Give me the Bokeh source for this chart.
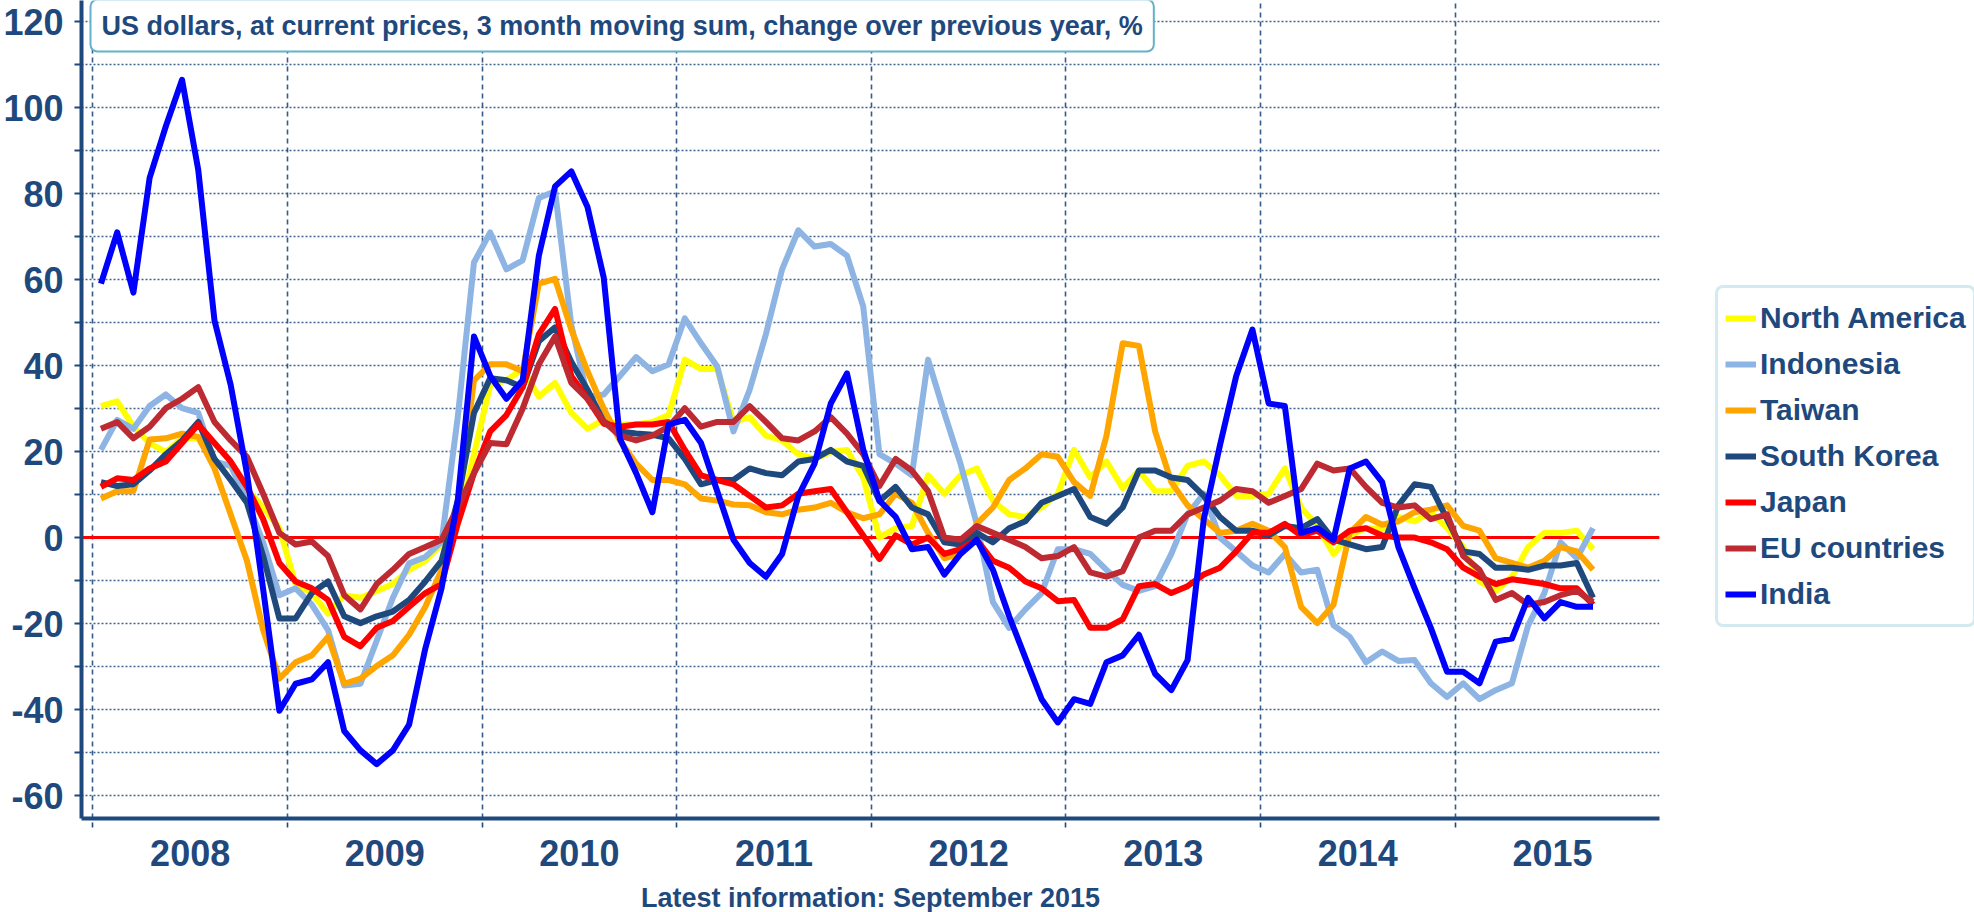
import numpy as np
from bokeh.plotting import figure
from bokeh.models import FixedTicker, Span, Label, Legend, LegendItem
from bokeh.embed import file_html
from bokeh.resources import INLINE

# ---------------- data (monthly, Jan 2008 .. Sep 2015) ----------------
years = ["2008", "2009", "2010", "2011", "2012", "2013", "2014", "2015"]
y_tick_values = list(range(-60, 121, 20))

north_america = [30.6, 31.7, 25.8, 22, 19.9, 23.1, 23.1, 17.2, 16.7, 11.3, 7, 2.2,
                 -10.8, -12.9, -17.7, -13.4, -14, -12.4, -10.8, -7.5, -5.4, -1.6, 3.2, 19.4,
                 35.5, 36.6, 39.2, 32.8, 36, 29, 25.3, 27.4, 26.3, 26.3, 26.9, 28.5,
                 41.4, 39.2, 39.2, 26.9, 28, 23.7, 22.6, 19.4, 18.3, 19.9, 20.4, 14,
                 0, 2.2, 2.7, 14.5, 10.2, 14.5, 16.1, 8.6, 5.4, 4.8, 7, 10.2,
                 20.4, 14, 17.7, 11.5, 15.6, 10.8, 10.8, 16.7, 17.7, 14.5, 9.7, 9.7,
                 10.2, 16.1, 7, 2.7, -3.8, 0.5, 2.2, 2, 4.8, 3.8, 5.9, 2.2,
                 -2.2, -10.2, -12.4, -9.1, -2.2, 1.1, 1.1, 1.6, -2.7]

indonesia = [20.4, 27.4, 25.3, 30.6, 33.3, 30.1, 29, 17.7, 16.7, 8.6, -1.1, -13.4,
             -11.8, -15.6, -21.5, -34.4, -34, -24, -14, -6, -4.5, -1, 28, 64,
             71, 62.4, 64.5, 79, 80.6, 49.5, 32.8, 33.3, 37.6, 42, 38.7, 40.3,
             51, 45.2, 39.8, 24.7, 34.4, 47.3, 62.4, 71.5, 67.7, 68.3, 65.6, 53.8,
             19.4, 17.2, 14.5, 41.4, 29, 17.2, 3.2, -15, -21, -16.7, -12.9, -2.7,
             -2.7, -3.8, -7.5, -11, -12.4, -11.3, -3.8, 5.4, 10.2, 0, -3.2, -6.5,
             -8.1, -3.8, -8.1, -7.5, -20.4, -23.1, -29, -26.5, -28.7, -28.5, -33.9, -37.1,
             -33.9, -37.6, -35.5, -33.9, -20.4, -12.9, -1.1, -4.8, 2.2]

taiwan = [9.1, 10.8, 10.8, 22.8, 23.1, 24.2, 23.4, 16.1, 5.4, -5.4, -21.5, -32.8,
          -29, -27.4, -23.1, -34, -32.8, -29.9, -27.4, -22.6, -16.1, -7.5, 7, 36.6,
          40.3, 40.3, 38.7, 59.1, 60.2, 48.4, 38.7, 30, 22.6, 17.2, 13.4, 13.4,
          12.4, 9.1, 8.6, 7.7, 7.5, 5.9, 5.4, 6.5, 7, 8.1, 5.9, 4.5,
          5.4, 10.2, 8.1, 1.1, -4.8, -3.8, 3.2, 7, 13.4, 16.1, 19.4, 18.8,
          12.9, 9.7, 23.7, 45.2, 44.6, 24.7, 12.9, 7.5, 4.3, 1.1, 1.6, 3.2,
          1.6, -2.2, -16.1, -19.9, -15.6, 1.1, 4.8, 3, 3.8, 5.9, 6.5, 7.5,
          2.7, 1.6, -4.8, -5.9, -7, -5.4, -2.2, -3.2, -7.5]

south_korea = [12.9, 12, 12.4, 15.6, 19.4, 22.6, 26.9, 18.3, 13.4, 8.1, -4.3, -18.8,
               -18.8, -12.9, -10.2, -18.3, -19.9, -18.3, -17.2, -14.5, -10.2, -5.4, 8.6, 29,
               37.1, 36.6, 35, 45.7, 48.9, 40.9, 34.4, 27, 24.7, 24.2, 23.9, 23.1,
               18.3, 12.4, 13.4, 13.4, 16.1, 15, 14.5, 17.7, 18.3, 20.4, 17.7, 16.7,
               8.5, 11.8, 7, 5.4, -1.1, -1.6, 1.1, -1.1, 2.2, 3.8, 8.1, 9.7,
               11.3, 4.8, 3.2, 7, 15.6, 15.6, 14, 13.4, 9.7, 4.8, 1.6, 1.6,
               0.5, 2.7, 2.2, 4.3, -0.5, -1.6, -2.7, -2.2, 7.5, 12.4, 11.8, 4.3,
               -3.2, -3.8, -7, -7, -7.5, -6.5, -6.5, -5.9, -14]

japan = [11.8, 13.8, 13.4, 16.1, 17.7, 22, 26.3, 22, 17.7, 11.8, 4.3, -5.9,
         -10.2, -11.8, -14.5, -23.1, -25.3, -21, -19.4, -16.1, -12.9, -10.8, 3.2, 15,
         24.7, 28.5, 35, 47.3, 53.2, 37.6, 32.3, 26.5, 25.8, 26.3, 26.3, 26.9,
         20.4, 14.5, 13.4, 12.4, 9.7, 7, 7.5, 10.2, 10.8, 11.3, 5.9, 0.5,
         -5, 0.5, -1.6, 0, -3.8, -2.7, -0.5, -5.4, -7, -10.2, -11.8, -14.8,
         -14.5, -21, -21, -19, -11.3, -10.8, -12.9, -11.3, -8.6, -7, -3.2, 1.1,
         1.1, 3.2, 0.5, 1.6, -1.1, 1.6, 2.2, 0.5, 0, 0, -1.1, -2.7,
         -7, -9.1, -10.8, -9.7, -10.2, -10.8, -11.8, -11.8, -15.6]

eu_countries = [25.3, 26.9, 23.1, 25.8, 30.1, 32.3, 35, 26.9, 22.6, 18.8, 10.2, 1.1,
                -1.6, -0.9, -4.3, -13.4, -16.7, -10.8, -7.5, -3.8, -2.2, -0.5, 7, 15,
                22, 21.7, 30, 40.3, 46.8, 36, 32.3, 27, 23.7, 22.6, 23.7, 25.8,
                30.1, 25.8, 26.9, 26.9, 30.6, 26.9, 23.1, 22.6, 24.7, 28, 24.2, 19.4,
                12, 18.3, 15.6, 10.8, 0, -0.5, 2.7, 1.1, -0.5, -2.2, -4.8, -4.3,
                -2.2, -8.1, -9.1, -7.8, 0, 1.6, 1.6, 5.4, 7, 8.6, 11.3, 10.8,
                8.1, 9.7, 11.3, 17.2, 15.6, 16.1, 11.8, 8.1, 7, 7.5, 4.3, 5.4,
                -4.3, -7.5, -14.5, -12.9, -15.6, -15, -13.4, -12.4, -15]

india = [59.1, 71, 57, 83.7, 95.7, 106.5, 85.5, 50.5, 35.5, 15, -12, -40.3,
         -34, -33, -29, -45, -49.5, -52.7, -49.5, -43.5, -25.8, -11.8, 8.6, 46.8,
         37.6, 32.3, 36.6, 65.6, 81.7, 85.2, 76.9, 60.5, 23, 15, 5.9, 26.3,
         27.4, 22, 10.8, -0.5, -5.9, -9.1, -3.8, 9.7, 17.2, 31.2, 38.2, 20.5,
         8.6, 4.8, -2.7, -2.2, -8.6, -3.8, -0.5, -7.5, -18.3, -28, -37.6, -43,
         -37.6, -38.7, -29, -27.4, -22.6, -31.7, -35.5, -28.5, 4.3, 21.5, 37.6, 48.4,
         31.2, 30.6, 1.1, 2.2, -0.5, 16.1, 17.7, 12.9, -2.2, -11.8, -21, -31.2,
         -31.2, -33.9, -24.2, -23.5, -14, -18.8, -15, -16.1, -16.1]

series_names = ["North America", "Indonesia", "Taiwan", "South Korea", "Japan", "EU countries", "India"]
series_values = [north_america, indonesia, taiwan, south_korea, japan, eu_countries, india]
series_colors = ["#FFFF00", "#8DB4E2", "#FFA500", "#1F497D", "#FF0000", "#BE2A31", "#0000FF"]

NAVY = "#1F497D"
FONT = "Liberation Sans"

# month mid-points, measured in months from January 2008
x = np.arange(len(india)) + 0.5
year_bounds = [12 * k for k in range(len(years))]
year_centers = [12 * k + 6 for k in range(len(years))]

p = figure(frame_width=1578, frame_height=818, output_backend="svg", toolbar_location=None,
           x_range=(-0.7, 96.6), y_range=(-65.35, 124.95),
           min_border_left=78, min_border_right=0, min_border_top=0, min_border_bottom=70,
           background_fill_color="white", border_fill_color="white")
p.outline_line_color = None

# grids
p.xgrid.ticker = FixedTicker(ticks=year_bounds)
p.xgrid.grid_line_color = NAVY
p.xgrid.grid_line_width = 1.6
p.xgrid.grid_line_dash = "5 4"
p.xgrid.grid_line_alpha = 0.9

yticker = FixedTicker(ticks=y_tick_values, minor_ticks=[v + 10 for v in y_tick_values[:-1]])
p.yaxis.ticker = yticker
p.ygrid.ticker = yticker
p.ygrid.grid_line_color = NAVY
p.ygrid.grid_line_width = 1.5
p.ygrid.grid_line_dash = "2 2"
p.ygrid.grid_line_alpha = 0.85
p.ygrid.minor_grid_line_color = NAVY
p.ygrid.minor_grid_line_width = 1.5
p.ygrid.minor_grid_line_dash = "2 2"
p.ygrid.minor_grid_line_alpha = 0.85

# y axis
ya = p.yaxis[0]
ya.major_label_overrides = {v: str(v) for v in y_tick_values}
ya.axis_line_color = NAVY
ya.axis_line_width = 4
ya.major_tick_line_color = NAVY
ya.major_tick_line_width = 2
ya.major_tick_out = 7
ya.major_tick_in = 0
ya.minor_tick_line_color = NAVY
ya.minor_tick_line_width = 2
ya.minor_tick_out = 7
ya.minor_tick_in = 0
ya.major_label_standoff = 11
ya.major_label_text_font = FONT
ya.major_label_text_font_style = "bold"
ya.major_label_text_font_size = "36px"
ya.major_label_text_color = NAVY

# x axis: year labels centred in each year, boundary ticks
xa = p.xaxis[0]
xa.ticker = FixedTicker(ticks=year_centers, minor_ticks=year_bounds)
xa.major_label_overrides = {c: y for c, y in zip(year_centers, years)}
xa.axis_line_color = NAVY
xa.axis_line_width = 4
xa.major_tick_out = 0
xa.major_tick_in = 0
xa.minor_tick_line_color = NAVY
xa.minor_tick_line_width = 1.6
xa.minor_tick_line_dash = "5 4"
xa.minor_tick_out = 9
xa.minor_tick_in = 0
xa.major_label_standoff = 12
xa.major_label_text_font = FONT
xa.major_label_text_font_style = "bold"
xa.major_label_text_font_size = "36px"
xa.major_label_text_color = NAVY
xa.axis_label = "Latest information: September 2015"
xa.axis_label_text_font = FONT
xa.axis_label_text_font_style = "bold"
xa.axis_label_text_font_size = "27px"
xa.axis_label_text_color = NAVY
xa.axis_label_standoff = 14

# zero line
p.add_layout(Span(location=0, dimension="width", line_color="#FF0000", line_width=3, level="underlay"))

# series
items = []
for name, vals, col in zip(series_names, series_values, series_colors):
    r = p.line(x, vals, line_color=col, line_width=6, line_join="round")
    items.append(LegendItem(label=name, renderers=[r]))

legend = Legend(items=items, location=(56, 191), orientation="vertical",
                label_text_font=FONT, label_text_font_style="bold", label_text_font_size="30px",
                label_text_color=NAVY, glyph_width=31, glyph_height=46, label_height=46,
                label_standoff=4, spacing=0, padding=7, margin=0,
                border_line_color="#A9D5E3", border_line_width=3,
                background_fill_color="white", background_fill_alpha=1.0)
try:
    legend.border_radius = 8
except Exception:
    pass
p.add_layout(legend, "right")
p.min_border_right = 302

title = Label(x=9, y=793, x_units="screen", y_units="screen",
              text="US dollars, at current prices, 3 month moving sum, change over previous year, %",
              text_font=FONT, text_font_style="bold", text_font_size="27px", text_color=NAVY,
              text_align="left", text_baseline="middle",
              background_fill_color="white", border_line_color="#63B1CC", border_line_width=2)
try:
    title.padding = 11
    title.border_radius = 7
except Exception:
    pass
p.add_layout(title)

open("out.html", "w").write(file_html(p, INLINE))
